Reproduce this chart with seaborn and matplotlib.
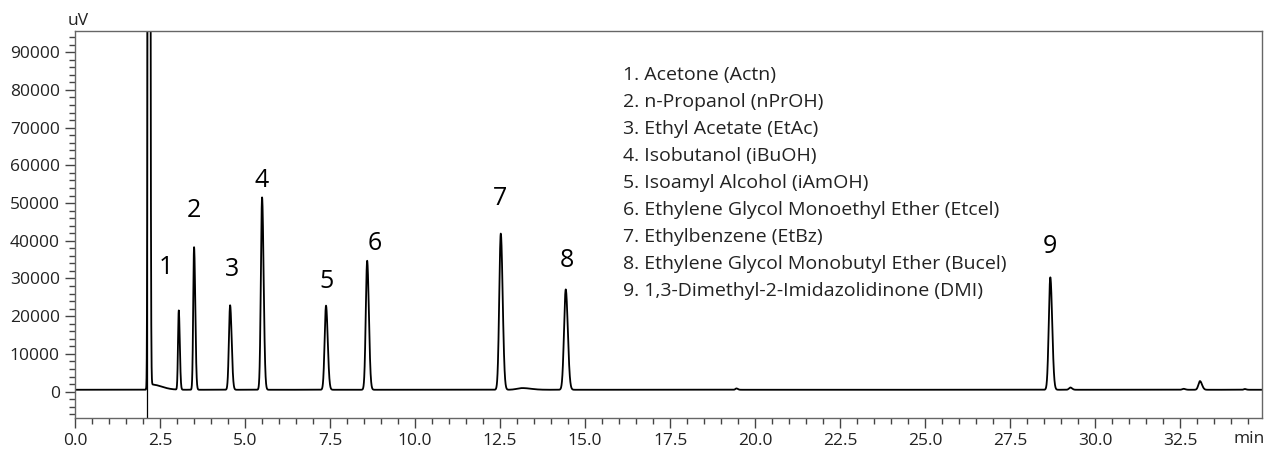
import numpy as np
import pandas as pd
import seaborn as sns
import matplotlib.pyplot as plt
from matplotlib.ticker import MultipleLocator

# peak table (min, uV)
peak_rt = [2.17, 2.24, 3.05, 3.50, 4.56, 5.50, 7.38, 8.59, 12.52, 13.15,
           14.43, 19.45, 28.68, 29.27, 32.60, 33.08, 34.40]
peak_height = [1000000, 1400, 21000, 37800, 22400, 51000, 22300, 34200,
               41400, 450, 26600, 350, 29800, 600, 250, 2300, 200]
peak_sigma_left = [0.02, 0.01, 0.022, 0.025, 0.035, 0.035, 0.04, 0.04,
                   0.045, 0.15, 0.05, 0.03, 0.045, 0.04, 0.04, 0.045, 0.03]
peak_sigma_right = [0.025, 0.3, 0.03, 0.035, 0.045, 0.045, 0.05, 0.05,
                    0.055, 0.25, 0.06, 0.04, 0.055, 0.05, 0.05, 0.06, 0.04]
baseline_level = 500

peak_labels = ['1', '2', '3', '4', '5', '6', '7', '8', '9']
label_x = [2.68, 3.50, 4.62, 5.50, 7.38, 8.82, 12.50, 14.47, 28.68]
label_y = [32800, 47900, 32300, 56100, 29100, 39400, 51100, 34900, 38600]

compounds = [
    '1. Acetone (Actn)',
    '2. n-Propanol (nPrOH)',
    '3. Ethyl Acetate (EtAc)',
    '4. Isobutanol (iBuOH)',
    '5. Isoamyl Alcohol (iAmOH)',
    '6. Ethylene Glycol Monoethyl Ether (Etcel)',
    '7. Ethylbenzene (EtBz)',
    '8. Ethylene Glycol Monobutyl Ether (Bucel)',
    '9. 1,3-Dimethyl-2-Imidazolidinone (DMI)',
]

injection_time = 2.13

# build the trace from the peak table (bi-gaussian peaks)
t = np.arange(0, 35.0, 0.002)
signal = np.full_like(t, baseline_level, dtype=float)
for rt, h, sl, sr in zip(peak_rt, peak_height, peak_sigma_left, peak_sigma_right):
    s = np.where(t < rt, sl, sr)
    signal += h * np.exp(-0.5 * ((t - rt) / s) ** 2)
df = pd.DataFrame({'time': t, 'uV': signal})

sns.set_style('ticks')
plt.rcParams['font.family'] = ['Open Sans', 'DejaVu Sans']

fig = plt.figure(figsize=(12.72, 4.5), dpi=100)
ax = fig.add_axes([0.059, 0.071, 0.933, 0.86])

sns.lineplot(data=df, x='time', y='uV', ax=ax, color='black', lw=1.3)
ax.axvline(injection_time, color='black', lw=0.9)

ax.set_xlim(0, 34.9)
ax.set_ylim(-7000, 95600)
ax.xaxis.set_major_locator(MultipleLocator(2.5))
ax.xaxis.set_minor_locator(MultipleLocator(0.5))
ax.yaxis.set_major_locator(MultipleLocator(10000))
ax.yaxis.set_minor_locator(MultipleLocator(2000))
ax.xaxis.set_major_formatter(lambda v, p: f'{v:.1f}')
ax.yaxis.set_major_formatter(lambda v, p: f'{v:.0f}')

for sp in ax.spines.values():
    sp.set_color('#666666')
    sp.set_linewidth(1.0)
ax.tick_params(which='major', length=7, width=1, color='#444444',
               labelsize=12.5, labelcolor='#222222', pad=4)
ax.tick_params(which='minor', length=4, width=1, color='#444444')
ax.set_xlabel('')
ax.set_ylabel('')

ax.text(0.003, 1.005, 'uV', transform=ax.transAxes, ha='center', va='bottom',
        fontsize=12.5, color='#222222')
ax.annotate('min', xy=(1.0, 0), xycoords='axes fraction', xytext=(2, -9),
            textcoords='offset points', ha='right', va='top',
            fontsize=12.5, color='#222222')

for lab, lx, ly in zip(peak_labels, label_x, label_y):
    ax.text(lx, ly, lab, ha='center', va='center', fontsize=18, color='black')

for i, name in enumerate(compounds):
    ax.text(16.1, 83900 - i * 7150, name, ha='left', va='center',
            fontsize=14, color='#222222')

fig.savefig('out.png', dpi=100)
